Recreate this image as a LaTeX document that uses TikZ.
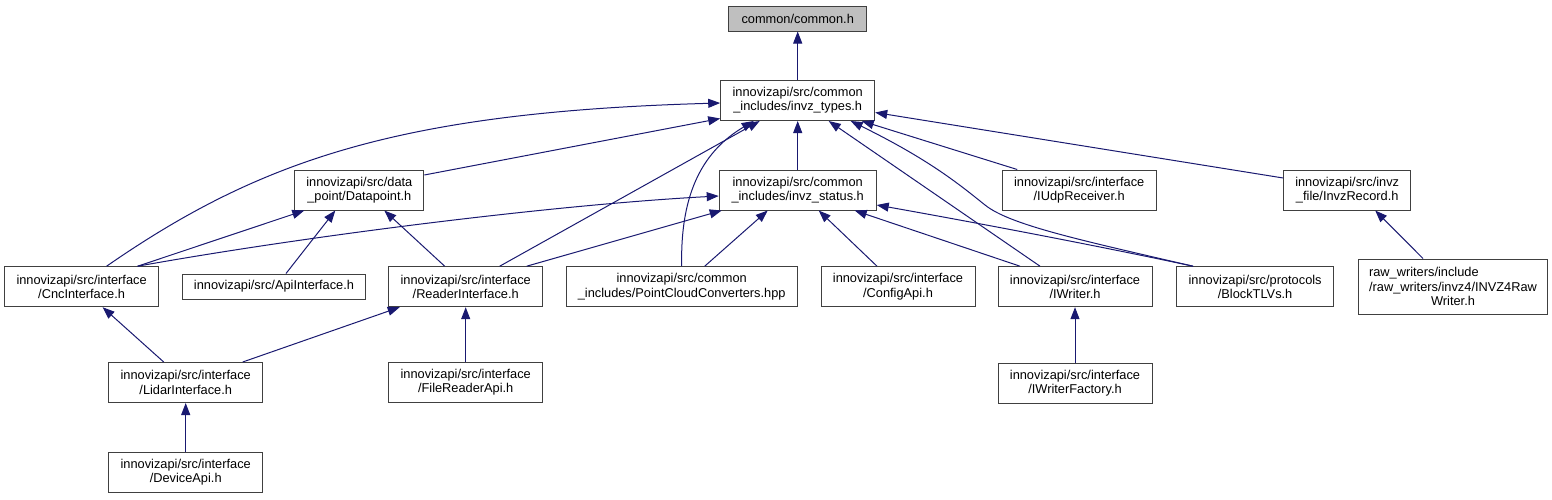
\documentclass[tikz,border=0pt]{standalone}
\usepackage{fontspec}
\setmainfont{Liberation Sans}
\usetikzlibrary{arrows.meta}

\definecolor{edgeblue}{HTML}{191970}
\definecolor{rootgray}{HTML}{BFBFBF}
\definecolor{boxline}{HTML}{404040}

\begin{document}
\begin{tikzpicture}[x=1pt, y=-1pt, >={Triangle[length=12pt, width=9pt]},
    file/.style={draw=boxline, line width=1pt, fill=white, inner sep=0pt, align=center,
      minimum width=154pt, minimum height=40pt, font=\fontsize{12.8}{14.3}\selectfont},
    dep/.style={->, draw=edgeblue, line width=1pt}]
    \useasboundingbox (0,0) rectangle (1552,499);

    % Files
    \node[file, fill=rootgray, minimum width=138pt, minimum height=25pt] (common) at (797.7,18.5) {common/common.h};
    \node[file] (types) at (797.7,100.5) {innovizapi/src/common\\\_includes/invz\_types.h};
    \node[file, minimum width=157pt] (status) at (797.7,190) {innovizapi/src/common\\\_includes/invz\_status.h};
    \node[file, minimum width=129pt] (datapoint) at (359.3,190) {innovizapi/src/data\\\_point/Datapoint.h};
    \node[file] (udp) at (1079.2,190) {innovizapi/src/interface\\/IUdpReceiver.h};
    \node[file, minimum width=127pt] (record) at (1347.2,190) {innovizapi/src/invz\\\_file/InvzRecord.h};
    \node[file] (cnc) at (81.6,286.7) {innovizapi/src/interface\\/CncInterface.h};
    \node[file, minimum width=183pt, minimum height=25pt] (api) at (274,286.5) {innovizapi/src/ApiInterface.h};
    \node[file] (reader) at (465.7,286.7) {innovizapi/src/interface\\/ReaderInterface.h};
    \node[file, minimum width=231pt] (pcc) at (681.7,286.7) {innovizapi/src/common\\\_includes/PointCloudConverters.hpp};
    \node[file] (config) at (898,286.7) {innovizapi/src/interface\\/ConfigApi.h};
    \node[file] (iwriter) at (1075,286.7) {innovizapi/src/interface\\/IWriter.h};
    \node[file, minimum width=157pt] (block) at (1255.1,286.7) {innovizapi/src/protocols\\/BlockTLVs.h};
    \node[file, minimum width=189pt, minimum height=55pt] (raw) at (1453,286.5)
      {\rlap{raw\_writers/include}\phantom{/raw\_writers/invz4/INVZ4Raw}\\/raw\_writers/invz4/INVZ4Raw\\Writer.h};
    \node[file] (lidar) at (185.7,382.5) {innovizapi/src/interface\\/LidarInterface.h};
    \node[file] (filereader) at (465.7,382.5) {innovizapi/src/interface\\/FileReaderApi.h};
    \node[file] (factory) at (1075,383) {innovizapi/src/interface\\/IWriterFactory.h};
    \node[file] (device) at (185.7,472.5) {innovizapi/src/interface\\/DeviceApi.h};

    % Includes of invz_types.h
    \draw[dep] (types) -- (common);
    \draw[dep] (status) -- (types);
    \draw[dep] ([yshift=15pt]datapoint.east) -- ([yshift=-18pt]types.west);
    \draw[dep] ([xshift=25pt]cnc.north) .. controls (260,160) and (400,112) .. ([yshift=-2.5pt]types.west);
    \draw[dep] ([xshift=34pt]reader.north) -- ([xshift=-38pt]types.south);
    \draw[dep] (pcc.north) .. controls (680,190) and (705,150) .. ([xshift=-44pt]types.south);
    \draw[dep] ([xshift=-35pt]iwriter.north) -- ([xshift=31pt]types.south);
    \draw[dep] ([xshift=-62pt]block.north) .. controls (1080,240) and (1010,225) .. (985,205)
      .. controls (960,185) and (930,160) .. ([xshift=53pt]types.south);
    \draw[dep] ([xshift=-62pt]udp.north) -- ([xshift=64pt]types.south);
    \draw[dep] ([yshift=12pt]record.west) -- ([yshift=-12pt]types.east);
    \draw[dep] ([xshift=-30pt]raw.north) -- ([xshift=28pt]record.south);

    % Includes of Datapoint.h
    \draw[dep] ([xshift=56pt]cnc.north) -- ([xshift=-55pt]datapoint.south);
    \draw[dep] ([xshift=12pt]api.north) -- ([xshift=-24pt]datapoint.south);
    \draw[dep] ([xshift=-21pt]reader.north) -- ([xshift=25pt]datapoint.south);

    % Includes of invz_status.h
    \draw[dep] ([xshift=56pt]cnc.north) .. controls (300,237) and (550,205) .. ([yshift=-6pt]status.west);
    \draw[dep] ([xshift=61pt]reader.north) -- ([xshift=-76pt]status.south);
    \draw[dep] ([xshift=23pt]pcc.north) -- ([xshift=-30pt]status.south);
    \draw[dep] ([xshift=-21pt]config.north) -- ([xshift=21pt]status.south);
    \draw[dep] ([xshift=-55pt]iwriter.north) -- ([xshift=57pt]status.south);
    \draw[dep] ([xshift=-62pt]block.north) .. controls (1080,242) and (950,218) .. ([yshift=-15pt]status.east);

    % Lower levels
    \draw[dep] ([xshift=-22pt]lidar.north) -- ([xshift=21pt]cnc.south);
    \draw[dep] ([xshift=57pt]lidar.north) -- ([xshift=-66pt]reader.south);
    \draw[dep] (filereader) -- (reader);
    \draw[dep] (device) -- (lidar);
    \draw[dep] (factory) -- (iwriter);
\end{tikzpicture}
\end{document}
